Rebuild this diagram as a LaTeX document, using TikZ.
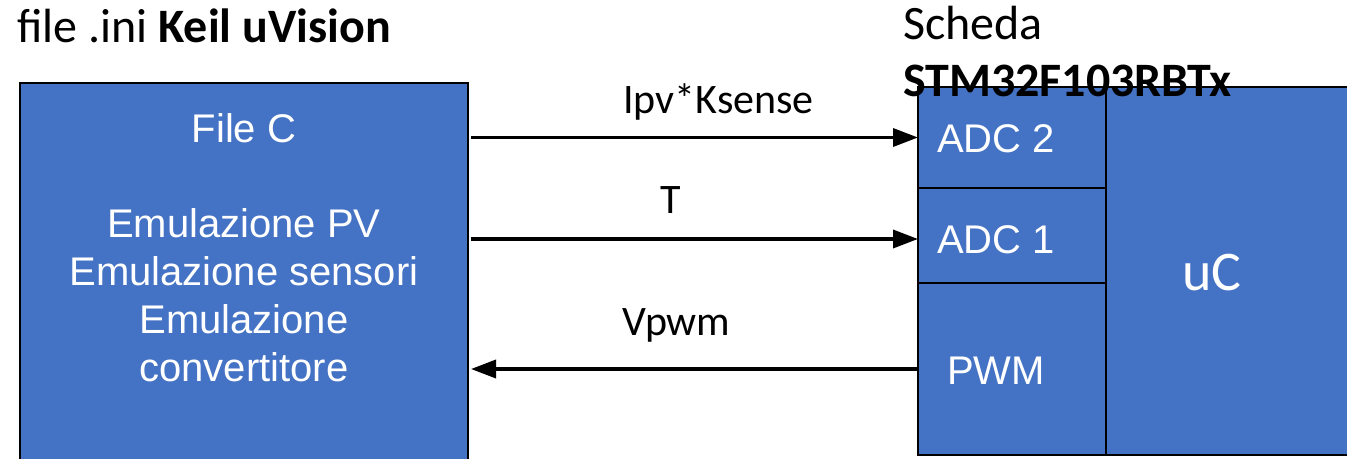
\documentclass[tikz,border=0pt]{standalone}
\usepackage{fontspec}
\setmainfont{Liberation Sans}
\newfontfamily\calibri{Carlito}
\usetikzlibrary{arrows.meta}
\definecolor{ofblue}{HTML}{4472C4}
\begin{document}
\begin{tikzpicture}[x=1pt,y=-1pt,
  blk/.style={draw=black,line width=1.6pt,fill=ofblue,inner sep=0pt,outer sep=0pt,anchor=north west},
  wt/.style={text=white,font=\fontsize{40}{48}\selectfont,inner sep=0pt},
  lbl/.style={text=black,font=\calibri\fontsize{42}{50}\selectfont,inner sep=0pt},
  ttl/.style={text=black,font=\calibri\fontsize{48}{58}\selectfont,inner sep=0pt},
  arr/.style={line width=3.5pt,-{Triangle[length=25pt,width=18pt]}}]
\useasboundingbox (0,0) rectangle (1347,458);
\fill[white] (0,0) rectangle (1347,458);
% boxes
\node[blk,minimum width=448pt,minimum height=385pt] (file) at (20,83) {};
\node[blk,minimum width=188pt,minimum height=101pt] (adc2) at (918,87) {};
\node[blk,minimum width=188pt,minimum height=95pt] (adc1) at (918,188) {};
\node[blk,minimum width=188pt,minimum height=172pt] (pwm) at (918,283) {};
\node[blk,minimum width=250pt,minimum height=368pt] (uc) at (1106,87) {};
% texts in boxes
\node[wt,anchor=base] (tfc) at (244,142) {File C};
\node[wt,anchor=base] (te1) at (244,237) {Emulazione PV};
\node[wt,anchor=base] (te2) at (244,285) {Emulazione sensori};
\node[wt,anchor=base] (te3) at (244,333) {Emulazione};
\node[wt,anchor=base] (te4) at (244,381) {convertitore};
\node[wt,anchor=base west] (tadc2) at (937,152) {ADC 2};
\node[wt,anchor=base west] (tadc1) at (937,253) {ADC 1};
\node[wt,anchor=base west] (tpwm) at (947,384) {PWM};
\node[text=white,font=\calibri\fontsize{56}{66}\selectfont,inner sep=0pt,anchor=base] (tuc) at (1212,290) {uC};
% titles
\node[ttl,anchor=base west] (t1) at (17,42) {file .ini \textbf{Keil uVision}};
\node[ttl,anchor=base west] (t2) at (903,39) {Scheda};
\node[ttl,anchor=base west] (t3) at (903,96) {\textbf{STM32F103RBTx}};
% arrows
\draw[arr,shorten <=3pt] (adc2.west -| file.east) -- (adc2.west);
\draw[arr,shorten <=3pt] ([yshift=-3.5pt]adc1.west -| file.east) -- ([yshift=-3.5pt]adc1.west);
\draw[arr,shorten >=3pt] (pwm.west) -- (pwm.west -| file.east);
% arrow labels
\node[lbl,anchor=base west] (l1) at (623,113) {Ipv*Ksense};
\node[lbl,anchor=base west] (l2) at (660,213) {T};
\node[lbl,anchor=base west] (l3) at (622,335) {Vpwm};
\end{tikzpicture}
\end{document}
